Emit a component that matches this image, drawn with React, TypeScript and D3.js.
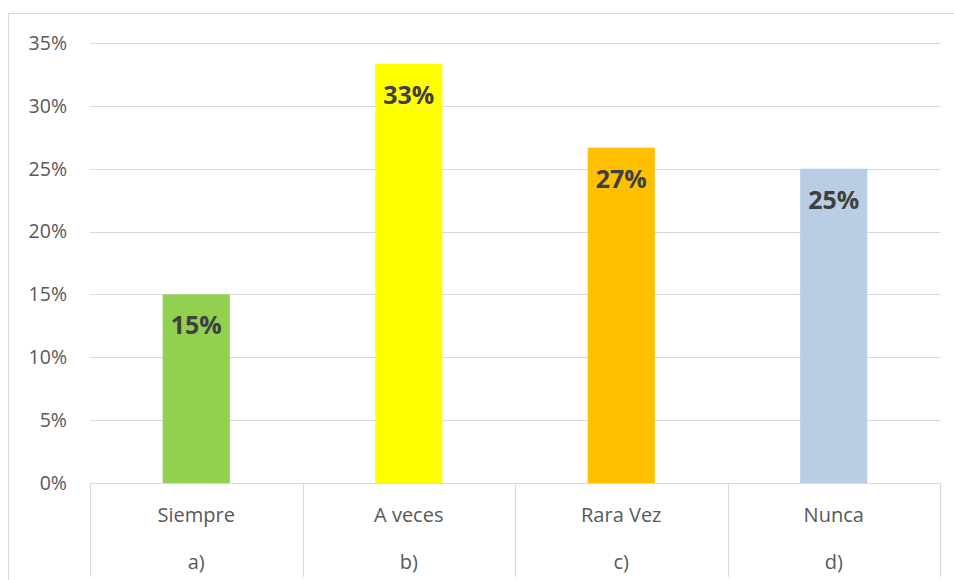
import React from "react";
import * as d3 from "d3";

const categories = ["Siempre", "A veces", "Rara Vez", "Nunca"];
const subLabels = ["a)", "b)", "c)", "d)"];
const values = [0.15, 0.3333, 0.2667, 0.25];
const labels = ["15%", "33%", "27%", "25%"];
const colors = ["#92D050", "#FFFF00", "#FFC000", "#B9CDE5"];
const yTicks = [0, 0.05, 0.1, 0.15, 0.2, 0.25, 0.3, 0.35];

const W = 954;
const H = 580;
const left = 90;
const right = 940;
const top = 43;
const bottom = 483;

export default function App() {
  const x = d3.scaleBand<string>().domain(categories).range([left, right]).paddingInner(0).paddingOuter(0);
  const y = d3.scaleLinear().domain([0, 0.35]).range([bottom, top]);
  const bw = x.bandwidth() * 0.316;
  const font = "'Open Sans', sans-serif";
  return (
    <svg width={W} height={H} style={{ position: "absolute", left: 0, top: 0 }} fontFamily={font}>
      <rect x={0} y={0} width={W} height={H} fill="#fff" />
      <rect x={8.5} y={13.5} width={W} height={H} fill="none" stroke="#d9d9d9" strokeWidth={1} />
      {yTicks.map((t) => (
        <g key={t}>
          {t > 0 && <line x1={left} x2={right} y1={Math.round(y(t)) + 0.5} y2={Math.round(y(t)) + 0.5} stroke="#d9d9d9" strokeWidth={1} />}
          <text x={67} y={y(t)} dy="0.35em" textAnchor="end" fontSize={19.5} fill="#595959">
            {d3.format(".0%")(t)}
          </text>
        </g>
      ))}
      {categories.map((c, i) => {
        const cx = (x(c) as number) + x.bandwidth() / 2;
        return (
          <g key={c}>
            <rect x={cx - bw / 2} y={y(values[i])} width={bw} height={bottom - y(values[i])} fill={colors[i]} />
            <text x={cx} y={y(values[i]) + 40} textAnchor="middle" fontSize={25} fontWeight="bold" fill="#404040">
              {labels[i]}
            </text>
            <text x={cx} y={515} dy="0.35em" textAnchor="middle" fontSize={20} fill="#595959">{c}</text>
            <text x={cx} y={562} dy="0.35em" textAnchor="middle" fontSize={20} fill="#595959">{subLabels[i]}</text>
          </g>
        );
      })}
      <line x1={left} x2={right} y1={bottom + 0.5} y2={bottom + 0.5} stroke="#d9d9d9" strokeWidth={1} />
      {[...categories.map((c) => x(c) as number), right].map((v, i) => (
        <line key={i} x1={Math.round(v) + 0.5} x2={Math.round(v) + 0.5} y1={bottom} y2={577} stroke="#d9d9d9" strokeWidth={1} />
      ))}
    </svg>
  );
}
